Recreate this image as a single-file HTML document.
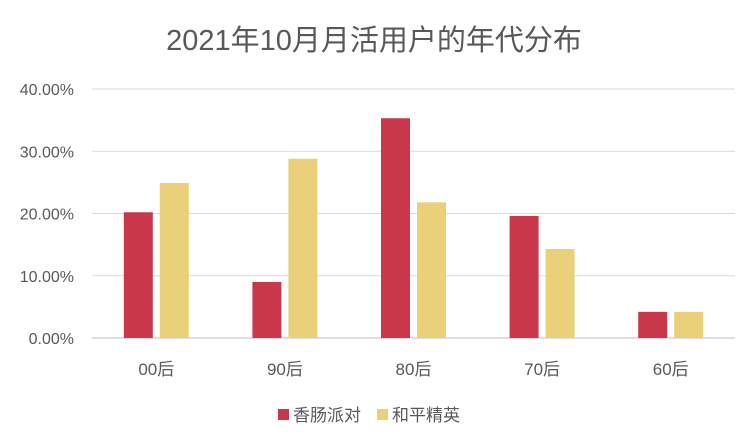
<!DOCTYPE html>
<html><head><meta charset="utf-8"><style>
body{margin:0;background:#fff;}
svg text{font-family:"Liberation Sans","Noto Sans CJK SC",sans-serif;fill:#595959;}
</style></head><body>
<svg width="748" height="441" xmlns="http://www.w3.org/2000/svg">
<text x="374" y="50" font-size="29" text-anchor="middle">2021年10月月活用户的年代分布</text>
<g id="grid"></g><g id="bars"></g><g id="labels"></g>
<g>
<rect x="278" y="409" width="11" height="11" fill="#C9374A"/>
<text x="293" y="421" font-size="17">香肠派对</text>
<rect x="377" y="409" width="11" height="11" fill="#EBD07A"/>
<text x="392" y="421" font-size="17">和平精英</text>
</g>
</svg>
<script>
const categories=["00后","90后","80后","70后","60后"];
const seriesA=[20.2,9.0,35.3,19.6,4.2];
const seriesB=[24.9,28.8,21.8,14.3,4.2];
const ticks=[0,10,20,30,40];
const tickLabels=["0.00%","10.00%","20.00%","30.00%","40.00%"];
const NS="http://www.w3.org/2000/svg";
const x0=92,x1=735,yBase=338,yTop=89;
const y=v=>yBase-(v/40)*(yBase-yTop);
const step=(x1-x0)/categories.length;
const cx=i=>x0+step*(i+0.5);
function mk(tag,attrs,parent){const e=document.createElementNS(NS,tag);for(const k in attrs)e.setAttribute(k,attrs[k]);document.getElementById(parent).appendChild(e);return e;}
ticks.forEach((t,i)=>{
 const l=mk('line',{x1:x0,x2:x1,y1:y(t),y2:y(t),stroke:i==0?'#bfbfbf':'#d9d9d9','stroke-width':1},'grid');
 
 
 const tx=mk('text',{x:74,y:y(t)+6,'font-size':16,'text-anchor':'end'},'labels');
 tx.textContent=tickLabels[i];
 
 
});
categories.forEach((c,i)=>{
 const a=mk('rect',{x:cx(i)-32.5,y:y(seriesA[i]),width:29,height:yBase-y(seriesA[i]),fill:'#C9374A'},'bars');
 
 
 const b=mk('rect',{x:cx(i)+3.5,y:y(seriesB[i]),width:29,height:yBase-y(seriesB[i]),fill:'#EBD07A'},'bars');
 
 
 const t=mk('text',{x:cx(i),y:375,'font-size':17,'text-anchor':'middle'},'labels');
 t.textContent=c;
 
 
});
</script>
</body></html>
